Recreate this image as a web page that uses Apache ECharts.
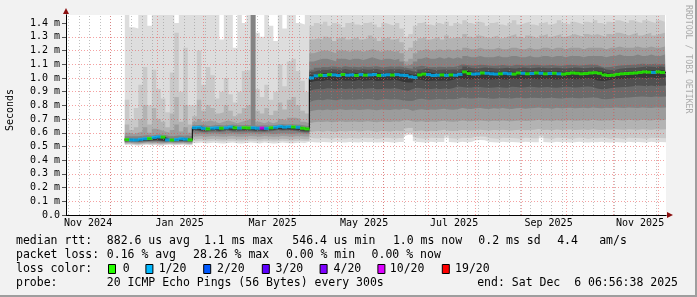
<!DOCTYPE html>
<html><head><meta charset="utf-8">
<script src="https://cdn.jsdelivr.net/npm/echarts@6/dist/echarts.min.js"></script>
<style>html,body{margin:0;padding:0;background:#f2f2f2}#c{width:697px;height:297px}</style>
</head><body><div id="c"></div>
<script>
// ---------- time range / sampling ----------
const rangeStart = '2024-11-01T06:56:38Z';
const rangeEnd   = '2025-12-06T06:56:38Z';
const sampleStart = '2024-12-10T12:00:00Z';
const sampleStepDays = 3;

// ---------- axis ticks ----------
const yTicks = [0,0.1,0.2,0.3,0.4,0.5,0.6,0.7,0.8,0.9,1.0,1.1,1.2,1.3,1.4];
const xLabelDates = ['2024-11-16','2025-01-16','2025-03-19','2025-05-19','2025-07-18','2025-09-19','2025-11-19'];
const xLabelTexts = ['Nov 2024','Jan 2025','Mar 2025','May 2025','Jul 2025','Sep 2025','Nov 2025'];
const monthLines = ['2024-12-01','2025-01-01','2025-02-01','2025-03-01','2025-04-01','2025-05-01','2025-06-01',
  '2025-07-01','2025-08-01','2025-09-01','2025-10-01','2025-11-01','2025-12-01'];
const firstWeekLine = '2024-11-03';

// ---------- median rtt (ms) and lost pings per sample ----------
const median = [
  0.550,0.548,0.547,0.552,0.556,0.558,0.566,0.570,0.568,0.548,0.547,0.550,0.556,0.553,0.548,
  0.637,0.640,0.632,0.628,0.634,0.636,0.633,0.636,0.642,0.636,0.634,0.637,0.635,0.636,0.633,0.634,0.632,0.636,0.640,0.646,0.641,0.644,0.642,0.640,0.633,0.628,
  1.000,1.015,1.020,1.018,1.024,1.022,1.018,1.025,1.020,1.022,
  1.018,1.024,1.020,1.022,1.025,1.018,1.020,1.023,1.021,1.024,
  1.020,1.018,1.008,1.004,1.022,1.028,1.024,1.018,1.020,1.022,
  1.019,1.022,1.020,1.026,1.044,1.032,1.028,1.030,1.036,1.034,
  1.030,1.028,1.030,1.034,1.030,1.028,1.036,1.034,1.030,1.032,
  1.036,1.034,1.030,1.032,1.034,1.030,1.028,1.032,1.036,1.034,
  1.030,1.032,1.036,1.038,1.034,1.022,1.018,1.020,1.026,1.030,
  1.032,1.034,1.036,1.040,1.044,1.042,1.040,1.044,1.040,1.042];
const loss = [
  0,1,1,1,1,0,1,1,0,1,0,1,1,1,0,
  1,1,1,0,1,1,0,1,1,0,1,0,0,1,1,10,1,0,1,1,1,1,0,1,0,0,
  1,1,0,1,0,1,1,0,1,1,
  0,1,0,1,1,0,1,1,0,1,
  1,1,1,1,0,0,1,1,1,0,
  1,0,1,1,0,0,1,1,0,1,
  1,1,0,1,1,0,0,1,0,1,
  0,1,0,1,0,1,0,0,0,0,
  0,0,0,0,0,0,0,0,0,0,
  0,0,0,0,0,0,1,0,0,0];

// ---------- smoke bands (ms): lower / upper edge of each ping-rank band, outermost first ----------
const b1Lo = [
  0.510,0.512,0.508,0.505,0.510,0.512,0.508,0.510,0.506,0.510,0.512,0.508,0.510,0.512,0.508,
  0.526,0.524,0.528,0.522,0.525,0.528,0.524,0.522,0.526,0.528,0.524,0.522,0.525,0.528,0.526,0.522,0.528,0.525,0.522,0.524,0.528,0.525,0.522,0.526,0.528,0.525,
  0.535,0.530,0.528,0.532,0.530,0.528,0.534,0.530,0.528,0.532,
  0.530,0.528,0.534,0.530,0.532,0.528,0.530,0.534,0.530,0.528,
  0.532,0.575,0.585,0.540,0.532,0.530,0.528,0.534,0.530,0.532,
  0.560,0.532,0.530,0.528,0.534,0.530,0.532,0.545,0.548,0.545,
  0.532,0.530,0.528,0.534,0.530,0.532,0.530,0.528,0.534,0.532,
  0.530,0.560,0.532,0.530,0.528,0.534,0.530,0.532,0.528,0.530,
  0.534,0.530,0.528,0.532,0.530,0.534,0.530,0.528,0.532,0.530,
  0.528,0.534,0.530,0.532,0.530,0.528,0.534,0.530,0.532,0.530];
const b1Hi = [
  1.60,1.37,1.36,1.60,1.60,1.38,1.60,1.60,1.60,1.60,1.60,1.40,1.60,1.60,1.60,
  1.60,1.60,1.60,1.60,1.60,1.60,1.28,1.60,1.60,1.22,1.60,1.40,1.60,1.60,1.33,1.30,1.60,1.38,1.27,1.60,1.36,1.60,1.60,1.40,1.39,1.60,
  1.60,1.60,1.60,1.60,1.60,1.60,1.60,1.60,1.60,1.60,
  1.60,1.60,1.60,1.60,1.60,1.60,1.60,1.60,1.60,1.60,
  1.60,1.60,1.60,1.60,1.60,1.60,1.60,1.60,1.60,1.60,
  1.60,1.60,1.60,1.60,1.60,1.60,1.60,1.60,1.60,1.60,
  1.60,1.60,1.60,1.60,1.60,1.60,1.60,1.60,1.60,1.60,
  1.60,1.60,1.60,1.60,1.60,1.60,1.60,1.60,1.60,1.60,
  1.60,1.60,1.60,1.60,1.60,1.60,1.60,1.60,1.60,1.60,
  1.60,1.60,1.60,1.60,1.60,1.60,1.60,1.60,1.60,1.60];
const b2Lo = [
  0.516,0.518,0.514,0.512,0.516,0.518,0.515,0.516,0.513,0.516,0.518,0.515,0.516,0.518,0.514,
  0.540,0.538,0.542,0.536,0.540,0.542,0.538,0.536,0.540,0.542,0.538,0.536,0.540,0.542,0.540,0.536,0.542,0.540,0.536,0.538,0.542,0.540,0.536,0.540,0.542,0.540,
  0.565,0.560,0.558,0.562,0.560,0.556,0.564,0.560,0.558,0.562,
  0.560,0.558,0.564,0.561,0.562,0.557,0.560,0.564,0.561,0.558,
  0.562,0.595,0.600,0.570,0.562,0.560,0.557,0.564,0.561,0.562,
  0.580,0.562,0.560,0.557,0.564,0.561,0.562,0.570,0.572,0.570,
  0.562,0.560,0.557,0.564,0.561,0.562,0.560,0.557,0.564,0.562,
  0.560,0.578,0.562,0.560,0.557,0.564,0.561,0.562,0.557,0.560,
  0.564,0.561,0.557,0.562,0.560,0.564,0.561,0.557,0.562,0.560,
  0.557,0.564,0.561,0.562,0.560,0.557,0.564,0.561,0.562,0.560];
const b2Hi = [
  0.84,0.70,0.78,0.95,1.08,0.80,1.06,0.92,0.85,0.75,1.04,1.33,0.90,1.22,0.80,
  0.80,1.20,0.95,1.08,1.02,0.85,0.90,1.00,0.88,0.82,0.90,1.05,1.06,1.60,0.92,0.86,0.95,0.84,0.90,1.10,0.94,1.12,1.14,1.05,0.98,0.90,
  1.38,1.40,1.39,1.41,1.38,1.40,1.39,1.37,1.40,1.41,
  1.39,1.38,1.40,1.41,1.39,1.37,1.40,1.39,1.38,1.40,
  1.36,1.30,1.32,1.38,1.40,1.41,1.39,1.38,1.40,1.39,
  1.41,1.38,1.40,1.39,1.42,1.40,1.39,1.41,1.40,1.38,
  1.40,1.41,1.39,1.38,1.40,1.42,1.39,1.40,1.41,1.39,
  1.38,1.40,1.41,1.39,1.40,1.42,1.40,1.39,1.41,1.40,
  1.39,1.41,1.40,1.42,1.40,1.39,1.41,1.40,1.42,1.41,
  1.40,1.42,1.41,1.40,1.42,1.41,1.40,1.42,1.41,1.42];
const b3Lo = [
  0.520,0.522,0.518,0.516,0.520,0.522,0.520,0.521,0.518,0.520,0.522,0.519,0.520,0.522,0.518,
  0.555,0.552,0.556,0.550,0.554,0.556,0.552,0.550,0.554,0.556,0.552,0.550,0.554,0.556,0.554,0.550,0.556,0.554,0.550,0.552,0.556,0.554,0.550,0.554,0.556,0.552,
  0.605,0.610,0.612,0.608,0.614,0.610,0.608,0.614,0.610,0.612,
  0.614,0.610,0.612,0.616,0.612,0.608,0.614,0.612,0.610,0.616,
  0.612,0.630,0.634,0.614,0.612,0.616,0.610,0.614,0.612,0.616,
  0.622,0.614,0.612,0.616,0.620,0.618,0.616,0.620,0.622,0.618,
  0.616,0.620,0.618,0.622,0.618,0.616,0.620,0.622,0.618,0.620,
  0.622,0.628,0.620,0.622,0.618,0.624,0.620,0.622,0.624,0.620,
  0.622,0.624,0.620,0.626,0.622,0.620,0.624,0.622,0.626,0.624,
  0.622,0.626,0.624,0.622,0.626,0.624,0.622,0.626,0.624,0.626];
const b3Hi = [
  0.66,0.62,0.64,0.70,0.80,0.66,0.78,0.70,0.68,0.64,0.74,0.86,0.68,0.80,0.66,
  0.72,0.84,0.76,0.80,0.78,0.74,0.75,0.80,0.76,0.72,0.74,0.78,0.80,1.60,0.76,0.74,0.78,0.73,0.76,0.82,0.77,0.84,0.86,0.80,0.76,0.74,
  1.28,1.29,1.28,1.30,1.29,1.27,1.29,1.30,1.28,1.29,
  1.30,1.28,1.29,1.31,1.29,1.27,1.29,1.30,1.28,1.29,
  1.26,1.20,1.22,1.27,1.29,1.30,1.28,1.29,1.30,1.28,
  1.31,1.29,1.30,1.29,1.32,1.30,1.29,1.31,1.30,1.29,
  1.30,1.31,1.29,1.30,1.31,1.32,1.30,1.29,1.31,1.30,
  1.29,1.31,1.32,1.30,1.31,1.32,1.30,1.31,1.32,1.31,
  1.30,1.32,1.31,1.32,1.31,1.30,1.32,1.31,1.33,1.32,
  1.31,1.32,1.33,1.31,1.32,1.33,1.31,1.32,1.33,1.32];
const b4Lo = [
  0.525,0.527,0.524,0.522,0.526,0.528,0.526,0.527,0.524,0.525,0.527,0.524,0.526,0.527,0.524,
  0.575,0.572,0.576,0.570,0.574,0.576,0.572,0.570,0.574,0.576,0.572,0.570,0.574,0.576,0.574,0.570,0.576,0.574,0.570,0.572,0.576,0.574,0.570,0.574,0.576,0.572,
  0.670,0.676,0.680,0.678,0.682,0.677,0.680,0.684,0.678,0.680,
  0.682,0.678,0.680,0.684,0.680,0.676,0.682,0.680,0.678,0.684,
  0.680,0.690,0.692,0.682,0.680,0.684,0.678,0.682,0.680,0.684,
  0.688,0.682,0.680,0.684,0.690,0.686,0.684,0.688,0.690,0.686,
  0.684,0.688,0.686,0.690,0.686,0.684,0.688,0.690,0.686,0.688,
  0.690,0.694,0.688,0.690,0.686,0.692,0.688,0.690,0.692,0.688,
  0.690,0.692,0.688,0.694,0.690,0.688,0.692,0.690,0.694,0.692,
  0.690,0.694,0.692,0.690,0.694,0.692,0.690,0.694,0.692,0.694];
const b4Hi = [
  0.60,0.59,0.60,0.61,0.64,0.60,0.63,0.62,0.61,0.60,0.62,0.66,0.61,0.64,0.60,
  0.68,0.70,0.68,0.69,0.68,0.67,0.68,0.69,0.68,0.67,0.68,0.69,0.70,1.60,0.68,0.67,0.68,0.67,0.68,0.70,0.69,0.71,0.71,0.70,0.68,0.67,
  1.18,1.19,1.20,1.20,1.19,1.18,1.20,1.20,1.19,1.20,
  1.20,1.19,1.20,1.21,1.20,1.19,1.20,1.20,1.19,1.20,
  1.18,1.12,1.14,1.18,1.20,1.21,1.20,1.20,1.21,1.20,
  1.21,1.20,1.21,1.20,1.22,1.21,1.21,1.22,1.21,1.21,
  1.21,1.22,1.21,1.21,1.22,1.22,1.21,1.21,1.22,1.21,
  1.21,1.22,1.22,1.21,1.22,1.22,1.21,1.22,1.22,1.22,
  1.21,1.22,1.22,1.22,1.22,1.21,1.22,1.22,1.23,1.22,
  1.22,1.22,1.23,1.22,1.22,1.23,1.22,1.22,1.23,1.22];
const b5Lo = [
  0.530,0.532,0.530,0.528,0.531,0.533,0.532,0.533,0.530,0.530,0.532,0.530,0.531,0.532,0.530,
  0.595,0.592,0.596,0.590,0.594,0.596,0.592,0.590,0.594,0.596,0.592,0.590,0.594,0.596,0.594,0.590,0.596,0.594,0.590,0.592,0.596,0.594,0.590,0.594,0.596,0.592,
  0.755,0.762,0.768,0.765,0.770,0.764,0.768,0.772,0.766,0.768,
  0.770,0.766,0.768,0.772,0.768,0.764,0.770,0.768,0.766,0.772,
  0.768,0.775,0.772,0.760,0.768,0.772,0.766,0.770,0.768,0.772,
  0.775,0.770,0.768,0.772,0.780,0.776,0.774,0.778,0.780,0.776,
  0.774,0.778,0.776,0.780,0.776,0.774,0.778,0.780,0.776,0.778,
  0.780,0.784,0.778,0.780,0.776,0.782,0.778,0.780,0.782,0.778,
  0.780,0.782,0.778,0.784,0.780,0.778,0.782,0.780,0.784,0.782,
  0.780,0.784,0.782,0.780,0.784,0.782,0.780,0.784,0.782,0.784];
const b5Hi = [
  0.575,0.574,0.575,0.578,0.582,0.578,0.586,0.588,0.584,0.574,0.576,0.580,0.578,0.580,0.574,
  0.655,0.658,0.652,0.650,0.654,0.656,0.652,0.656,0.660,0.654,0.654,0.656,0.655,1.600,0.652,0.654,0.652,0.654,0.658,0.664,0.660,0.662,0.660,0.658,0.652,0.648,
  1.12,1.13,1.14,1.14,1.13,1.12,1.14,1.14,1.13,1.14,
  1.14,1.13,1.14,1.15,1.14,1.13,1.14,1.14,1.13,1.14,
  1.12,1.09,1.10,1.12,1.14,1.15,1.14,1.14,1.15,1.14,
  1.15,1.14,1.15,1.14,1.16,1.15,1.15,1.16,1.15,1.15,
  1.15,1.16,1.15,1.15,1.16,1.16,1.15,1.15,1.16,1.15,
  1.15,1.16,1.16,1.15,1.16,1.16,1.15,1.16,1.16,1.16,
  1.15,1.16,1.16,1.16,1.16,1.15,1.16,1.16,1.17,1.16,
  1.16,1.16,1.17,1.16,1.16,1.17,1.16,1.16,1.17,1.16];
const b6Lo = [
  0.535,0.536,0.535,0.534,0.536,0.538,0.540,0.541,0.538,0.535,0.536,0.535,0.537,0.536,0.535,
  0.610,0.612,0.606,0.604,0.608,0.610,0.606,0.610,0.614,0.608,0.608,0.610,0.609,0.610,0.606,0.608,0.606,0.610,0.612,0.618,0.614,0.616,0.614,0.612,0.606,0.602,
  0.825,0.835,0.840,0.838,0.844,0.840,0.838,0.844,0.840,0.842,
  0.840,0.844,0.842,0.846,0.844,0.838,0.842,0.846,0.842,0.844,
  0.842,0.836,0.834,0.834,0.844,0.848,0.842,0.840,0.844,0.846,
  0.842,0.846,0.844,0.848,0.858,0.852,0.850,0.852,0.856,0.854,
  0.850,0.848,0.852,0.854,0.852,0.850,0.856,0.854,0.852,0.854,
  0.856,0.854,0.852,0.854,0.856,0.852,0.850,0.854,0.856,0.854,
  0.852,0.854,0.856,0.858,0.856,0.846,0.844,0.848,0.852,0.854,
  0.856,0.858,0.860,0.862,0.864,0.862,0.860,0.864,0.862,0.864];
const b6Hi = [
  0.560,0.558,0.558,0.562,0.566,0.566,0.572,0.574,0.572,0.558,0.558,0.560,0.564,0.562,0.558,
  0.642,0.645,0.638,0.635,0.640,0.642,0.638,0.642,0.648,0.642,0.640,0.643,0.641,0.642,0.638,0.640,0.638,0.642,0.646,0.652,0.648,0.650,0.648,0.646,0.640,0.635,
  1.060,1.075,1.080,1.078,1.084,1.082,1.078,1.085,1.080,1.082,
  1.078,1.084,1.080,1.082,1.085,1.078,1.080,1.083,1.081,1.084,
  1.080,1.070,1.066,1.082,1.088,1.084,1.078,1.080,1.082,1.079,
  1.082,1.080,1.086,1.100,1.094,1.090,1.090,1.096,1.094,1.090,
  1.088,1.090,1.094,1.090,1.088,1.096,1.094,1.090,1.092,1.096,
  1.094,1.090,1.092,1.094,1.090,1.088,1.092,1.096,1.094,1.090,
  1.092,1.096,1.098,1.094,1.082,1.078,1.080,1.086,1.090,1.092,
  1.094,1.096,1.100,1.104,1.102,1.100,1.104,1.100,1.102,1.104];
const b7Lo = [
  0.538,0.539,0.538,0.537,0.539,0.541,0.543,0.544,0.541,0.538,0.539,0.538,0.540,0.539,0.538,
  0.616,0.618,0.612,0.610,0.614,0.616,0.612,0.616,0.620,0.614,0.614,0.616,0.615,0.616,0.612,0.614,0.612,0.616,0.618,0.624,0.620,0.622,0.620,0.618,0.612,0.608,
  0.905,0.915,0.920,0.918,0.924,0.922,0.918,0.925,0.920,0.922,
  0.918,0.924,0.920,0.922,0.925,0.918,0.920,0.923,0.921,0.924,
  0.920,0.912,0.906,0.920,0.928,0.924,0.918,0.920,0.922,0.919,
  0.922,0.920,0.926,0.938,0.934,0.930,0.930,0.936,0.934,0.930,
  0.928,0.930,0.934,0.930,0.928,0.936,0.934,0.930,0.932,0.936,
  0.934,0.930,0.932,0.934,0.930,0.928,0.932,0.936,0.934,0.930,
  0.932,0.936,0.938,0.934,0.922,0.918,0.920,0.926,0.930,0.932,
  0.934,0.936,0.940,0.944,0.942,0.940,0.944,0.940,0.942,0.944];
const b7Hi = [
  0.556,0.554,0.554,0.558,0.562,0.562,0.568,0.570,0.568,0.554,0.554,0.556,0.560,0.558,0.554,
  0.640,0.643,0.636,0.632,0.638,0.640,0.636,0.640,0.646,0.640,0.638,0.641,0.639,0.640,0.636,0.638,0.636,0.640,0.644,0.650,0.645,0.648,0.646,0.644,0.637,0.632,
  1.045,1.055,1.060,1.058,1.064,1.062,1.058,1.065,1.060,1.062,
  1.058,1.064,1.060,1.062,1.065,1.058,1.060,1.063,1.061,1.064,
  1.060,1.058,1.048,1.044,1.062,1.068,1.064,1.058,1.060,1.062,
  1.059,1.062,1.060,1.066,1.084,1.072,1.068,1.070,1.076,1.074,
  1.070,1.068,1.070,1.074,1.070,1.068,1.076,1.074,1.070,1.072,
  1.076,1.074,1.070,1.072,1.074,1.070,1.068,1.072,1.076,1.074,
  1.070,1.072,1.076,1.078,1.074,1.062,1.058,1.060,1.066,1.070,
  1.072,1.074,1.076,1.080,1.084,1.082,1.080,1.084,1.080,1.082];
const b8Lo = [
  0.541,0.542,0.541,0.540,0.542,0.544,0.546,0.548,0.545,0.541,0.542,0.541,0.543,0.542,0.541,
  0.622,0.624,0.618,0.616,0.620,0.622,0.618,0.622,0.626,0.620,0.620,0.622,0.621,0.622,0.618,0.620,0.618,0.622,0.624,0.630,0.626,0.628,0.626,0.624,0.618,0.614,
  0.965,0.975,0.980,0.978,0.984,0.982,0.978,0.985,0.980,0.982,
  0.978,0.984,0.980,0.982,0.985,0.978,0.980,0.983,0.981,0.984,
  0.980,0.970,0.966,0.982,0.988,0.984,0.978,0.980,0.982,0.979,
  0.982,0.980,0.986,1.000,0.994,0.990,0.990,0.996,0.994,0.990,
  0.988,0.990,0.994,0.990,0.988,0.996,0.994,0.990,0.992,0.996,
  0.994,0.990,0.992,0.994,0.990,0.988,0.992,0.996,0.994,0.990,
  0.992,0.996,0.998,0.994,0.982,0.978,0.980,0.986,0.990,0.992,
  0.994,0.996,1.000,1.004,1.002,1.000,1.004,1.000,1.002,1.004];
const b8Hi = [
  0.552,0.550,0.550,0.554,0.558,0.558,0.564,0.566,0.564,0.550,0.550,0.552,0.556,0.554,0.550,
  0.637,0.640,0.633,0.629,0.635,0.637,0.634,0.637,0.643,0.637,0.635,0.638,0.636,0.637,0.634,0.635,0.633,0.637,0.641,0.647,0.642,0.645,0.643,0.641,0.634,0.629,
  1.020,1.030,1.035,1.033,1.039,1.037,1.033,1.040,1.035,1.037,
  1.033,1.039,1.035,1.037,1.040,1.033,1.035,1.038,1.036,1.039,
  1.035,1.033,1.023,1.019,1.037,1.043,1.039,1.033,1.035,1.037,
  1.034,1.037,1.035,1.041,1.059,1.047,1.043,1.045,1.051,1.049,
  1.045,1.043,1.045,1.049,1.045,1.043,1.051,1.049,1.045,1.047,
  1.051,1.049,1.045,1.047,1.049,1.045,1.043,1.047,1.051,1.049,
  1.045,1.047,1.051,1.053,1.049,1.037,1.033,1.035,1.041,1.045,
  1.047,1.049,1.051,1.055,1.059,1.057,1.055,1.059,1.055,1.057];

// ---------- legend texts ----------
const statsRtt  = ['median rtt:','882.6 us avg','1.1 ms max','546.4 us min','1.0 ms now','0.2 ms sd','4.4','am/s'];
const statsLoss = ['packet loss:','0.16 % avg','28.26 % max','0.00 % min','0.00 % now'];
const lossTitle = 'loss color:';
const lossLabels = ['0','1/20','2/20','3/20','4/20','10/20','19/20'];
const lossCounts = [0,1,2,3,4,10,19];
const lossColors = ['#26ff00','#00b8ff','#0059ff','#5e00ff','#7e00ff','#dd00ff','#ff0000'];
const probeTexts = ['probe:','20 ICMP Echo Pings (56 Bytes) every 300s','end: Sat Dec  6 06:56:38 2025'];
const yAxisTitle = 'Seconds';
const watermark = 'RRDTOOL / TOBI OETIKER';

// ---------- build ----------
const DAY = 86400000;
const T0 = Date.parse(sampleStart), STEP = sampleStepDays * DAY;
const TMIN = Date.parse(rangeStart), TMAX = Date.parse(rangeEnd);
const N = median.length;
const tAt = i => T0 + i * STEP;
function stepData(arr) {
  const d = [];
  for (let i = 0; i < N; i++) d.push([tAt(i), arr[i]]);
  d.push([TMAX, arr[N - 1]]);
  return d;
}
const bands = [[b1Lo,b1Hi],[b2Lo,b2Hi],[b3Lo,b3Hi],[b4Lo,b4Hi],[b5Lo,b5Hi],[b6Lo,b6Hi],[b7Lo,b7Hi],[b8Lo,b8Hi]];
const bandColors = ['#dddddd','#c9c9c9','#b3b3b3','#9c9c9c','#838383','#6a6a6a','#505050','#363636'];

const series = [];
bands.forEach((b, k) => {
  const lo = b[0], hi = b[1];
  series.push({type:'line', stack:'band'+k, step:'end', data: stepData(lo), showSymbol:false, symbol:'none',
    lineStyle:{width:0, opacity:0}, silent:true, z:2, animation:false});
  series.push({type:'line', stack:'band'+k, step:'end', data: stepData(hi.map((h,i)=>h - lo[i])), showSymbol:false, symbol:'none',
    lineStyle:{width:0, opacity:0}, areaStyle:{color:bandColors[k], opacity:1}, silent:true, z:2, animation:false});
});

// vertical grid lines
const weekLines = [];
for (let t = Date.parse(firstWeekLine + 'T00:00:00Z'); t < TMAX; t += 7 * DAY) if (t > TMIN) weekLines.push(t);
const gridMarks = [];
weekLines.forEach(t => gridMarks.push({xAxis: t, lineStyle:{color:'rgba(140,140,140,0.55)', type:[1,2], width:1}}));
monthLines.forEach(s => gridMarks.push({xAxis: Date.parse(s + 'T00:00:00Z'), lineStyle:{color:'rgba(235,70,70,0.5)', type:[1,2], width:1}}));
series.push({type:'line', data:[], z:5, silent:true, animation:false,
  markLine:{silent:true, animation:false, symbol:['none','none'], label:{show:false}, data: gridMarks}});

// median black connector
series.push({type:'line', step:'end', data: stepData(median), showSymbol:false, symbol:'none',
  lineStyle:{color:'#000', width:1}, silent:true, z:7, animation:false});

// median coloured by loss
function lossColor(n) { let c = lossColors[0]; lossCounts.forEach((v,k)=>{ if (n >= v) c = lossColors[k]; }); return c; }
series.push({type:'scatter', symbol:'rect', symbolSize:[5,3], silent:true, z:8, animation:false,
  data: median.map((v,i)=>[tAt(i) + STEP/2, v, loss[i]]),
  itemStyle:{color: p => lossColor(p.data[2])}});

// ---------- graphic (legend / frame) ----------
const MONO = '"DejaVu Sans Mono", monospace';
const F = '11.5px ' + MONO;
function txt(s, x, y, opts) {
  const o = opts || {};
  return {type:'text', x:x, y:y, rotation:o.rotation||0, silent:true, z:100,
    style:{text:s, font:o.font||F, fill:o.fill||'#000', align:o.align||'left', verticalAlign:'middle',
      textAlign:o.align||'left', textVerticalAlign:'middle'}};
}
const rttX  = [16,106.8,204,292.3,392.9,478.3,557.2,599.2];
const lossX = [16,106.8,193,285.9,371.6];
const boxX  = [108.5,145.9,203.7,262.3,320.1,377.9,442.3];
const lblX  = [122.8,158.7,217,275.6,333.6,389.8,455.1];
const probeX = [16,106.8,477.2];
const lineY = [241.5,255.3,269,283];
const elements = [];
statsRtt.forEach((s,k)=>elements.push(txt(s, rttX[k], lineY[0])));
statsLoss.forEach((s,k)=>elements.push(txt(s, lossX[k], lineY[1])));
elements.push(txt(lossTitle, 16, lineY[2]));
lossLabels.forEach((s,k)=>{
  elements.push({type:'rect', silent:true, z:100, shape:{x:boxX[k], y:264.5, width:7, height:9},
    style:{fill:lossColors[k], stroke:'#000', lineWidth:1}});
  elements.push(txt(s, lblX[k], lineY[2]));
});
probeTexts.forEach((s,k)=>elements.push(txt(s, probeX[k], lineY[3])));
elements.push(txt(yAxisTitle, 10.8, 110, {rotation:Math.PI/2, align:'center', font:'10px ' + MONO}));
elements.push(txt(watermark, 688, 5, {rotation:-Math.PI/2, font:'8.2px ' + MONO, fill:'#ababab'}));
elements.push({type:'rect', silent:true, z:100, shape:{x:695, y:0, width:2, height:297}, style:{fill:'#9e9e9e'}});
elements.push({type:'rect', silent:true, z:100, shape:{x:0, y:295, width:697, height:2}, style:{fill:'#9e9e9e'}});

const xLabelTimes = xLabelDates.map(s => Date.parse(s + 'T00:00:00Z'));
const axisFont = {fontFamily: MONO, fontSize: 10, color: '#000'};

const option = {
  backgroundColor: '#f2f2f2',
  animation: false,
  grid: {left:66, right:31, top:15, bottom:82, show:true, backgroundColor:'#ffffff', borderWidth:0},
  xAxis: [
    {type:'time', min:TMIN, max:TMAX, axisLine:{show:false}, axisTick:{show:false}, splitLine:{show:false}, axisLabel:{show:false}},
    {type:'value', min:TMIN, max:TMAX, z:6, position:'bottom',
      axisLine:{show:true, onZero:false, lineStyle:{color:'#000', width:1}},
      axisTick:{show:false}, splitLine:{show:false},
      axisLabel:Object.assign({customValues:xLabelTimes, margin:3, hideOverlap:false,
        formatter: v => { const k = xLabelTimes.indexOf(+v); return k >= 0 ? xLabelTexts[k] : ''; }}, axisFont)},
    {type:'value', min:TMIN, max:TMAX, z:5, position:'bottom',
      axisLine:{show:true, onZero:false, symbol:['none','triangle'], symbolSize:[6,6], symbolOffset:[0,4], lineStyle:{color:'#8b1010', width:1}},
      axisTick:{show:false}, splitLine:{show:false}, axisLabel:{show:false}}
  ],
  yAxis: [
    {type:'value', min:0, max:1.459, interval:0.1, z:6,
      axisLine:{show:true, onZero:false, lineStyle:{color:'#000', width:1}},
      axisTick:{show:true, length:4, customValues:yTicks, lineStyle:{color:'#555'}},
      splitLine:{show:true, showMinLine:false, showMaxLine:false, lineStyle:{color:'rgba(235,70,70,0.5)', type:[1,2], width:1}},
      axisLabel:Object.assign({customValues:yTicks, margin:6,
        formatter: v => (Math.abs(v) < 1e-9 ? '0.0' : (+v).toFixed(1) + ' m')}, axisFont)},
    {type:'value', min:0, max:1.459, z:5, position:'left',
      axisLine:{show:true, onZero:false, symbol:['none','triangle'], symbolSize:[6,6], symbolOffset:[0,4], lineStyle:{color:'#8b1010', width:1}},
      axisTick:{show:false}, splitLine:{show:false}, axisLabel:{show:false}}
  ],
  graphic: {elements: elements},
  series: series
};
const chart = echarts.init(document.getElementById('c'), null, {renderer:'canvas'});
chart.setOption(option);
</script></body></html>
